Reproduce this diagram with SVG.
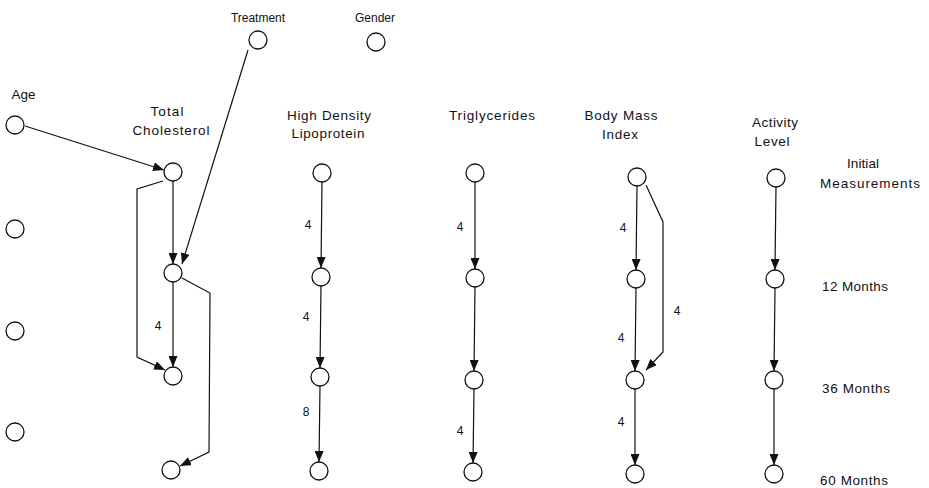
<svg xmlns="http://www.w3.org/2000/svg" width="929" height="488" viewBox="0 0 929 488">
<style>
.n{fill:#fff;stroke:#111;stroke-width:1.3}
.e{fill:none;stroke:#111;stroke-width:1.2;marker-end:url(#ah)}
text{font-family:"Liberation Sans",Arial,sans-serif;fill:#111}
.h{font-size:13.5px;text-anchor:middle}
.s{font-size:12px;text-anchor:middle}
.w{font-size:12px;text-anchor:middle}
</style>
<defs>
<marker id="ah" markerUnits="userSpaceOnUse" markerWidth="11" markerHeight="9" refX="11" refY="4.5" orient="auto">
<path d="M0,0 L11,4.5 L0,9 z" fill="#111"/>
</marker>
</defs>
<rect width="929" height="488" fill="#fff"/>

<g id="labels">
<text class="s" x="258" y="22">Treatment</text>
<text class="s" x="375" y="22">Gender</text>
<text class="h" x="23.5" y="99">Age</text>
<text class="h" x="167" y="116" textLength="33">Total</text>
<text class="h" x="171" y="135" textLength="77">Cholesterol</text>
<text class="h" x="329" y="120" textLength="84">High Density</text>
<text class="h" x="328" y="138" textLength="73">Lipoprotein</text>
<text class="h" x="492" y="120" textLength="86">Triglycerides</text>
<text class="h" x="621" y="120" textLength="73">Body Mass</text>
<text class="h" x="620" y="139" textLength="36">Index</text>
<text class="h" x="775" y="127" textLength="46">Activity</text>
<text class="h" x="772" y="146" textLength="35">Level</text>
<text class="h" x="863" y="168" textLength="32">Initial</text>
<text class="h" x="870" y="188" textLength="100">Measurements</text>
<text class="h" x="855" y="291" textLength="66">12 Months</text>
<text class="h" x="856" y="393" textLength="68">36 Months</text>
<text class="h" x="854" y="485" textLength="68">60 Months</text>
</g>

<g id="connectors">
<path class="e" d="M25,126 L164,170"/>
<path class="e" d="M248,50 L182,264"/>
<path class="e" d="M173,181 L173,264"/>
<path class="e" d="M163,181 L137,189 L137,357 L165,370"/>
<path class="e" d="M173,282 L173,367"/>
<path class="e" d="M182,278 L210,293 L209,452 L180,466"/>
<path class="e" d="M322,182 L321,268"/>
<path class="e" d="M321,286 L320,368"/>
<path class="e" d="M320,386 L319,462"/>
<path class="e" d="M475,182 L475,269"/>
<path class="e" d="M475,287 L474,371"/>
<path class="e" d="M474,389 L473,463"/>
<path class="e" d="M637,186 L636,270"/>
<path class="e" d="M636,288 L635,371"/>
<path class="e" d="M635,389 L635,465"/>
<path class="e" d="M646,185 L663,222 L663,352 L646,370"/>
<path class="e" d="M776,187 L775,270"/>
<path class="e" d="M775,288 L774,371"/>
<path class="e" d="M774,389 L774,465"/>
<text class="w" x="158" y="330">4</text>
<text class="w" x="308" y="229">4</text>
<text class="w" x="306" y="321">4</text>
<text class="w" x="306" y="416">8</text>
<text class="w" x="460" y="231">4</text>
<text class="w" x="460" y="435">4</text>
<text class="w" x="623" y="232">4</text>
<text class="w" x="621" y="342">4</text>
<text class="w" x="621" y="426">4</text>
<text class="w" x="677" y="315">4</text>
</g>

<g id="treatment"><circle class="n" cx="258" cy="40" r="9"/></g>
<g id="gender"><circle class="n" cx="376" cy="42" r="9"/></g>
<g id="age"><circle class="n" cx="15" cy="125" r="9"/></g>
<g id="age-12"><circle class="n" cx="15" cy="229" r="9"/></g>
<g id="age-36"><circle class="n" cx="15" cy="331" r="9"/></g>
<g id="age-60"><circle class="n" cx="15" cy="432" r="9"/></g>

<g id="tc-0"><circle class="n" cx="173" cy="172" r="9"/></g>
<g id="tc-12"><circle class="n" cx="173" cy="273" r="9"/></g>
<g id="tc-36"><circle class="n" cx="173" cy="376" r="9"/></g>
<g id="tc-60"><circle class="n" cx="171" cy="470" r="9"/></g>

<g id="hdl-0"><circle class="n" cx="322" cy="173" r="9"/></g>
<g id="hdl-12"><circle class="n" cx="321" cy="277" r="9"/></g>
<g id="hdl-36"><circle class="n" cx="320" cy="377" r="9"/></g>
<g id="hdl-60"><circle class="n" cx="319" cy="471" r="9"/></g>

<g id="tg-0"><circle class="n" cx="475" cy="173" r="9"/></g>
<g id="tg-12"><circle class="n" cx="475" cy="278" r="9"/></g>
<g id="tg-36"><circle class="n" cx="474" cy="380" r="9"/></g>
<g id="tg-60"><circle class="n" cx="473" cy="472" r="9"/></g>

<g id="bmi-0"><circle class="n" cx="637" cy="177" r="9"/></g>
<g id="bmi-12"><circle class="n" cx="636" cy="279" r="9"/></g>
<g id="bmi-36"><circle class="n" cx="635" cy="380" r="9"/></g>
<g id="bmi-60"><circle class="n" cx="635" cy="474" r="9"/></g>

<g id="act-0"><circle class="n" cx="776" cy="178" r="9"/></g>
<g id="act-12"><circle class="n" cx="775" cy="279" r="9"/></g>
<g id="act-36"><circle class="n" cx="774" cy="380" r="9"/></g>
<g id="act-60"><circle class="n" cx="774" cy="474" r="9"/></g>
</svg>
